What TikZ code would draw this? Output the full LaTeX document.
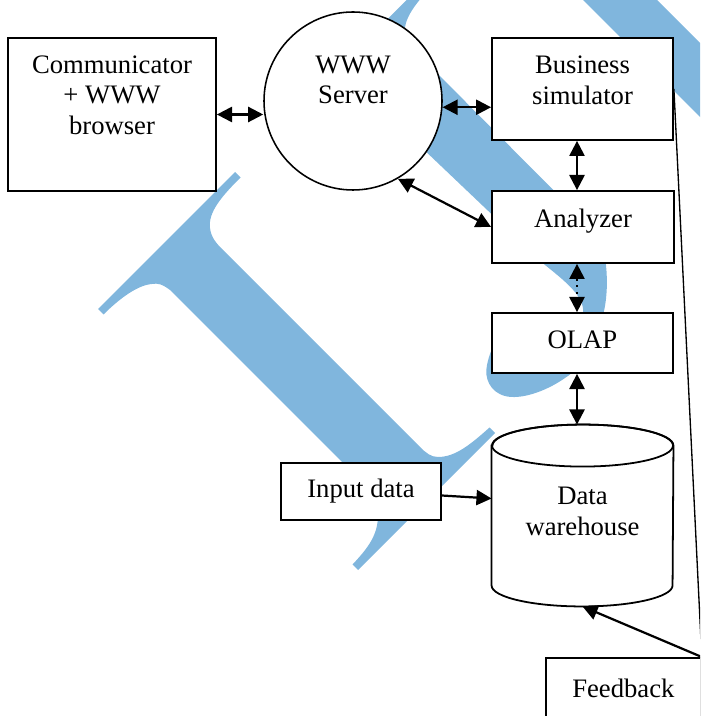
\documentclass[tikz,border=0pt]{standalone}
\usepackage{fontspec}
\setmainfont{Liberation Serif}
\usepackage{xcolor}
\usepackage{tikz}
\usetikzlibrary{arrows.meta}
\definecolor{wmblue}{HTML}{80B6DD}
\newlength{\pix}
\setlength{\pix}{0.45pt}

\begin{document}
\begin{tikzpicture}[x=0.45pt, y=-0.45pt,
    box/.style={rectangle, draw, fill=white, line width=0.8pt},
    txt/.style={align=center, inner sep=0pt, font=\fontsize{12}{13.8}\selectfont},
    link/.style={line width=1pt, {Triangle[length=6.8pt,width=6.8pt]}-{Triangle[length=6.8pt,width=6.8pt]}},
    feed/.style={line width=1pt, -{Triangle[length=6.8pt,width=6.8pt]}}
]
    \useasboundingbox (0,0) rectangle (700,716);
    \clip (0,0) rectangle (700,716);

    % watermark letters behind the diagram
    \fill[wmblue] (98,309) -- (235,172) -- (240.5,177.5)
        .. controls (222,196) and (208,212) .. (210,228)
        .. controls (211,237) and (216,243) .. (222,249)
        -- (420,447)
        .. controls (426,453) and (431,457) .. (438,457)
        .. controls (455,457) and (470,445) .. (489.5,427.5)
        -- (495,433) -- (358,570) -- (352.5,564.5)
        .. controls (368,548) and (378,535) .. (378,515)
        .. controls (378,500) and (372,490) .. (362,482)
        -- (170,290)
        .. controls (162,284) and (158,283) .. (152,284)
        .. controls (138,285) and (120,298) .. (103.5,314.5) -- cycle;
    \fill[wmblue] (338,68) -- (433,-26) -- (438.5,-20.5)
        .. controls (420,-2) and (403,17) .. (405,33)
        .. controls (406,41) and (411,47) .. (417,53)
        -- (598,235)
        .. controls (607,250) and (610,290) .. (603,315)
        .. controls (595,345) and (585,365) .. (565,378)
        .. controls (545,392) and (520,400) .. (505,396)
        .. controls (490,392) and (484,378) .. (487,365)
        .. controls (489,355) and (493,345) .. (497,340)
        -- (505,334)
        .. controls (530,352) and (570,345) .. (582,318)
        .. controls (588,300) and (570,285) .. (545,265) -- cycle;
    \fill[wmblue] (578,-5) -- (710,127) -- (710,53) -- (652,-5) -- cycle;

    \node[box, minimum width=208\pix, minimum height=153\pix] (comm) at (112,114.5) {};
    \node[txt] (commtxt) at (112,95) {Communicator\\+ WWW\\browser};

    \node[circle, draw, fill=white, line width=0.7pt, minimum size=178\pix] (www) at (353,101) {};
    \node[txt] (wwwtxt) at (353,80) {WWW\\Server};

    \node[box, minimum width=181\pix, minimum height=102\pix] (bsim) at (582.5,89) {};
    \node[txt] (bsimtxt) at (582.5,80) {Business\\simulator};

    \node[box, minimum width=182\pix, minimum height=72\pix] (ana) at (583,227) {};
    \node[txt] (anatxt) at (583,221) {Analyzer};

    \node[box, minimum width=181\pix, minimum height=60\pix] (olap) at (582.5,343) {};
    \node[txt] (olaptxt) at (582.5,340) {OLAP};

    % data warehouse drum
    \node[inner sep=0pt, minimum width=181\pix, minimum height=181\pix] (dw) at (582.5,515.5) {};
    \draw[line width=0.8pt, fill=white] ([yshift=-21\pix]dw.north west)
        -- ([yshift=21\pix]dw.south west) arc[start angle=180, end angle=0, x radius=90.5, y radius=21]
        -- ([yshift=-21\pix]dw.north east) arc[start angle=0, end angle=-180, x radius=90.5, y radius=21]
        -- cycle;
    \draw[line width=0.8pt] ([yshift=-21\pix]dw.north) ellipse[x radius=90.5, y radius=21];
    \node[txt] (dwtxt) at (582.5,511.5) {Data\\warehouse};

    \node[box, txt, inner sep=0pt, minimum width=160\pix, minimum height=57\pix] (inp) at (361,491.5) {Input data};
    \node[box, txt, inner sep=0pt, anchor=north west, minimum width=155\pix, minimum height=60\pix] (fb) at (545,657) {Feedback};

    \coordinate (axis) at (577,0);

    \draw[link] (comm.east) -- (comm.east -| www.west);
    \draw[link] (www.-4) -- (www.-4 -| bsim.west);
    \draw[link] (bsim.south -| axis) -- (ana.north -| axis);
    \draw[link] (www.-60) -- (ana.west);
    \draw[link, dotted] (ana.south -| axis) -- (olap.north -| axis);
    \draw[link] (olap.south -| axis) -- (dw.north -| axis);
    \draw[feed] ([yshift=-4\pix]inp.east) -- ([yshift=17\pix]dw.west);

    % feedback loop
    \draw[line width=0.6pt] (bsim.east) -- (fb.north east);
    \draw[feed] (fb.north east) -- (dw.south);
\end{tikzpicture}
\end{document}
